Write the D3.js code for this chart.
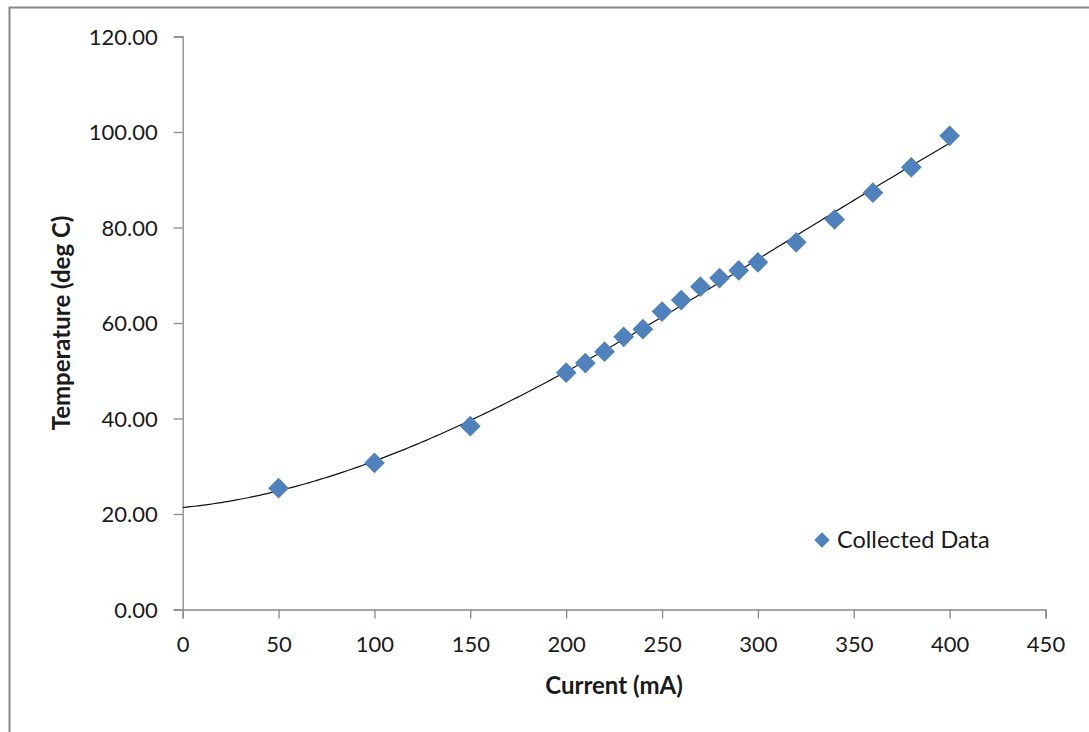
<!DOCTYPE html>
<html>
<head>
<meta charset="utf-8">
<script src="https://cdn.jsdelivr.net/npm/d3@7"></script>
<style>
  html, body { margin: 0; padding: 0; background: #fff; }
  svg { display: block; }
  text { font-family: Lato, "Open Sans", sans-serif; fill: #1a1a1a; }
</style>
</head>
<body>
<script>
// Heater current (mA) vs. measured temperature (deg C)
const current = [50, 100, 150, 200, 210, 220, 230, 240, 250, 260, 270, 280, 290, 300, 320, 340, 360, 380, 400];
const temperature = [25.4, 30.7, 38.4, 49.6, 51.6, 54.0, 57.1, 58.7, 62.4, 64.8, 67.6, 69.4, 71.0, 72.7, 76.9, 81.7, 87.3, 92.6, 99.2];
const xTicks = [0, 50, 100, 150, 200, 250, 300, 350, 400, 450];
const yTicks = [0, 20, 40, 60, 80, 100, 120];
const seriesName = "Collected Data";
const xTitle = "Current (mA)";
const yTitle = "Temperature (deg C)";

const W = 1089, H = 732;
const svg = d3.select("body").append("svg").attr("width", W).attr("height", H);

// outer chart frame (only top and left edges fall inside the view)
svg.append("rect")
  .attr("x", 9.5).attr("y", 7.5)
  .attr("width", W + 20).attr("height", H + 20)
  .attr("fill", "none").attr("stroke", "#888").attr("stroke-width", 2);

const x = d3.scaleLinear().domain([0, 450]).range([182.7, 1045.5]);
const y = d3.scaleLinear().domain([0, 120]).range([609.5, 36.5]);

// y axis
const yAxis = svg.append("g")
  .attr("transform", `translate(${x(0)},0)`)
  .call(d3.axisLeft(y).tickValues(yTicks).tickFormat(d3.format(".2f")).tickSize(9).tickPadding(16));
// x axis
const xAxis = svg.append("g")
  .attr("transform", `translate(0,${y(0)})`)
  .call(d3.axisBottom(x).tickValues(xTicks).tickFormat(d3.format("d")).tickSize(9).tickPadding(18));

[yAxis, xAxis].forEach(g => {
  g.select(".domain").attr("stroke", "#888").attr("stroke-width", 1.3);
  g.selectAll(".tick line").attr("stroke", "#888").attr("stroke-width", 1.3);
  g.selectAll(".tick text").attr("font-size", 22).attr("fill", "#1a1a1a")
    .style("font-family", "Lato, 'Open Sans', sans-serif");
});
yAxis.selectAll(".tick text").attr("dy", "0.36em");

// third-order least-squares trendline through the data
function polyFit(xs, ys, deg) {
  const m = deg + 1;
  const A = Array.from({ length: m }, () => new Array(m + 1).fill(0));
  for (let i = 0; i < xs.length; i++) {
    for (let r = 0; r < m; r++) {
      for (let c = 0; c < m; c++) A[r][c] += Math.pow(xs[i], r + c);
      A[r][m] += Math.pow(xs[i], r) * ys[i];
    }
  }
  for (let c = 0; c < m; c++) {
    for (let r = c + 1; r < m; r++) {
      const f = A[r][c] / A[c][c];
      for (let k = c; k <= m; k++) A[r][k] -= f * A[c][k];
    }
  }
  const b = new Array(m).fill(0);
  for (let r = m - 1; r >= 0; r--) {
    let v = A[r][m];
    for (let k = r + 1; k < m; k++) v -= A[r][k] * b[k];
    b[r] = v / A[r][r];
  }
  return b;
}
const coef = polyFit(current, temperature, 3);
const evalPoly = v => coef.reduce((s, c, k) => s + c * Math.pow(v, k), 0);
const fitPts = d3.range(0, 400.5, 2).map(v => [v, evalPoly(v)]);
svg.append("path")
  .datum(fitPts)
  .attr("fill", "none").attr("stroke", "#111").attr("stroke-width", 1.2)
  .attr("d", d3.line().x(d => x(d[0])).y(d => y(d[1])));

// data markers
const diamond = d3.symbol().type(d3.symbolSquare).size(215);
const pts = current.map((c, i) => [c, temperature[i]]);
svg.append("g").selectAll("path")
  .data(pts).join("path")
  .attr("d", diamond)
  .attr("transform", d => `translate(${x(d[0])},${y(d[1])}) rotate(45)`)
  .attr("fill", "#4F81BD");

// legend
const lg = svg.append("g").attr("transform", "translate(822,540)");
lg.append("path").attr("d", d3.symbol().type(d3.symbolSquare).size(120)).attr("transform", "rotate(45)").attr("fill", "#4F81BD");
lg.append("text").attr("x", 15).attr("y", 0).attr("dy", "0.36em").attr("font-size", 23.5).text(seriesName);

// axis titles
svg.append("text")
  .attr("x", 614).attr("y", 685).attr("dy", "0.36em")
  .attr("text-anchor", "middle").attr("font-size", 24).attr("font-weight", "bold")
  .text(xTitle);
svg.append("text")
  .attr("transform", `translate(61,${(y(0) + y(120)) / 2}) rotate(-90)`)
  .attr("dy", "0.36em")
  .attr("text-anchor", "middle").attr("font-size", 24).attr("font-weight", "bold")
  .text(yTitle);
</script>
</body>
</html>
